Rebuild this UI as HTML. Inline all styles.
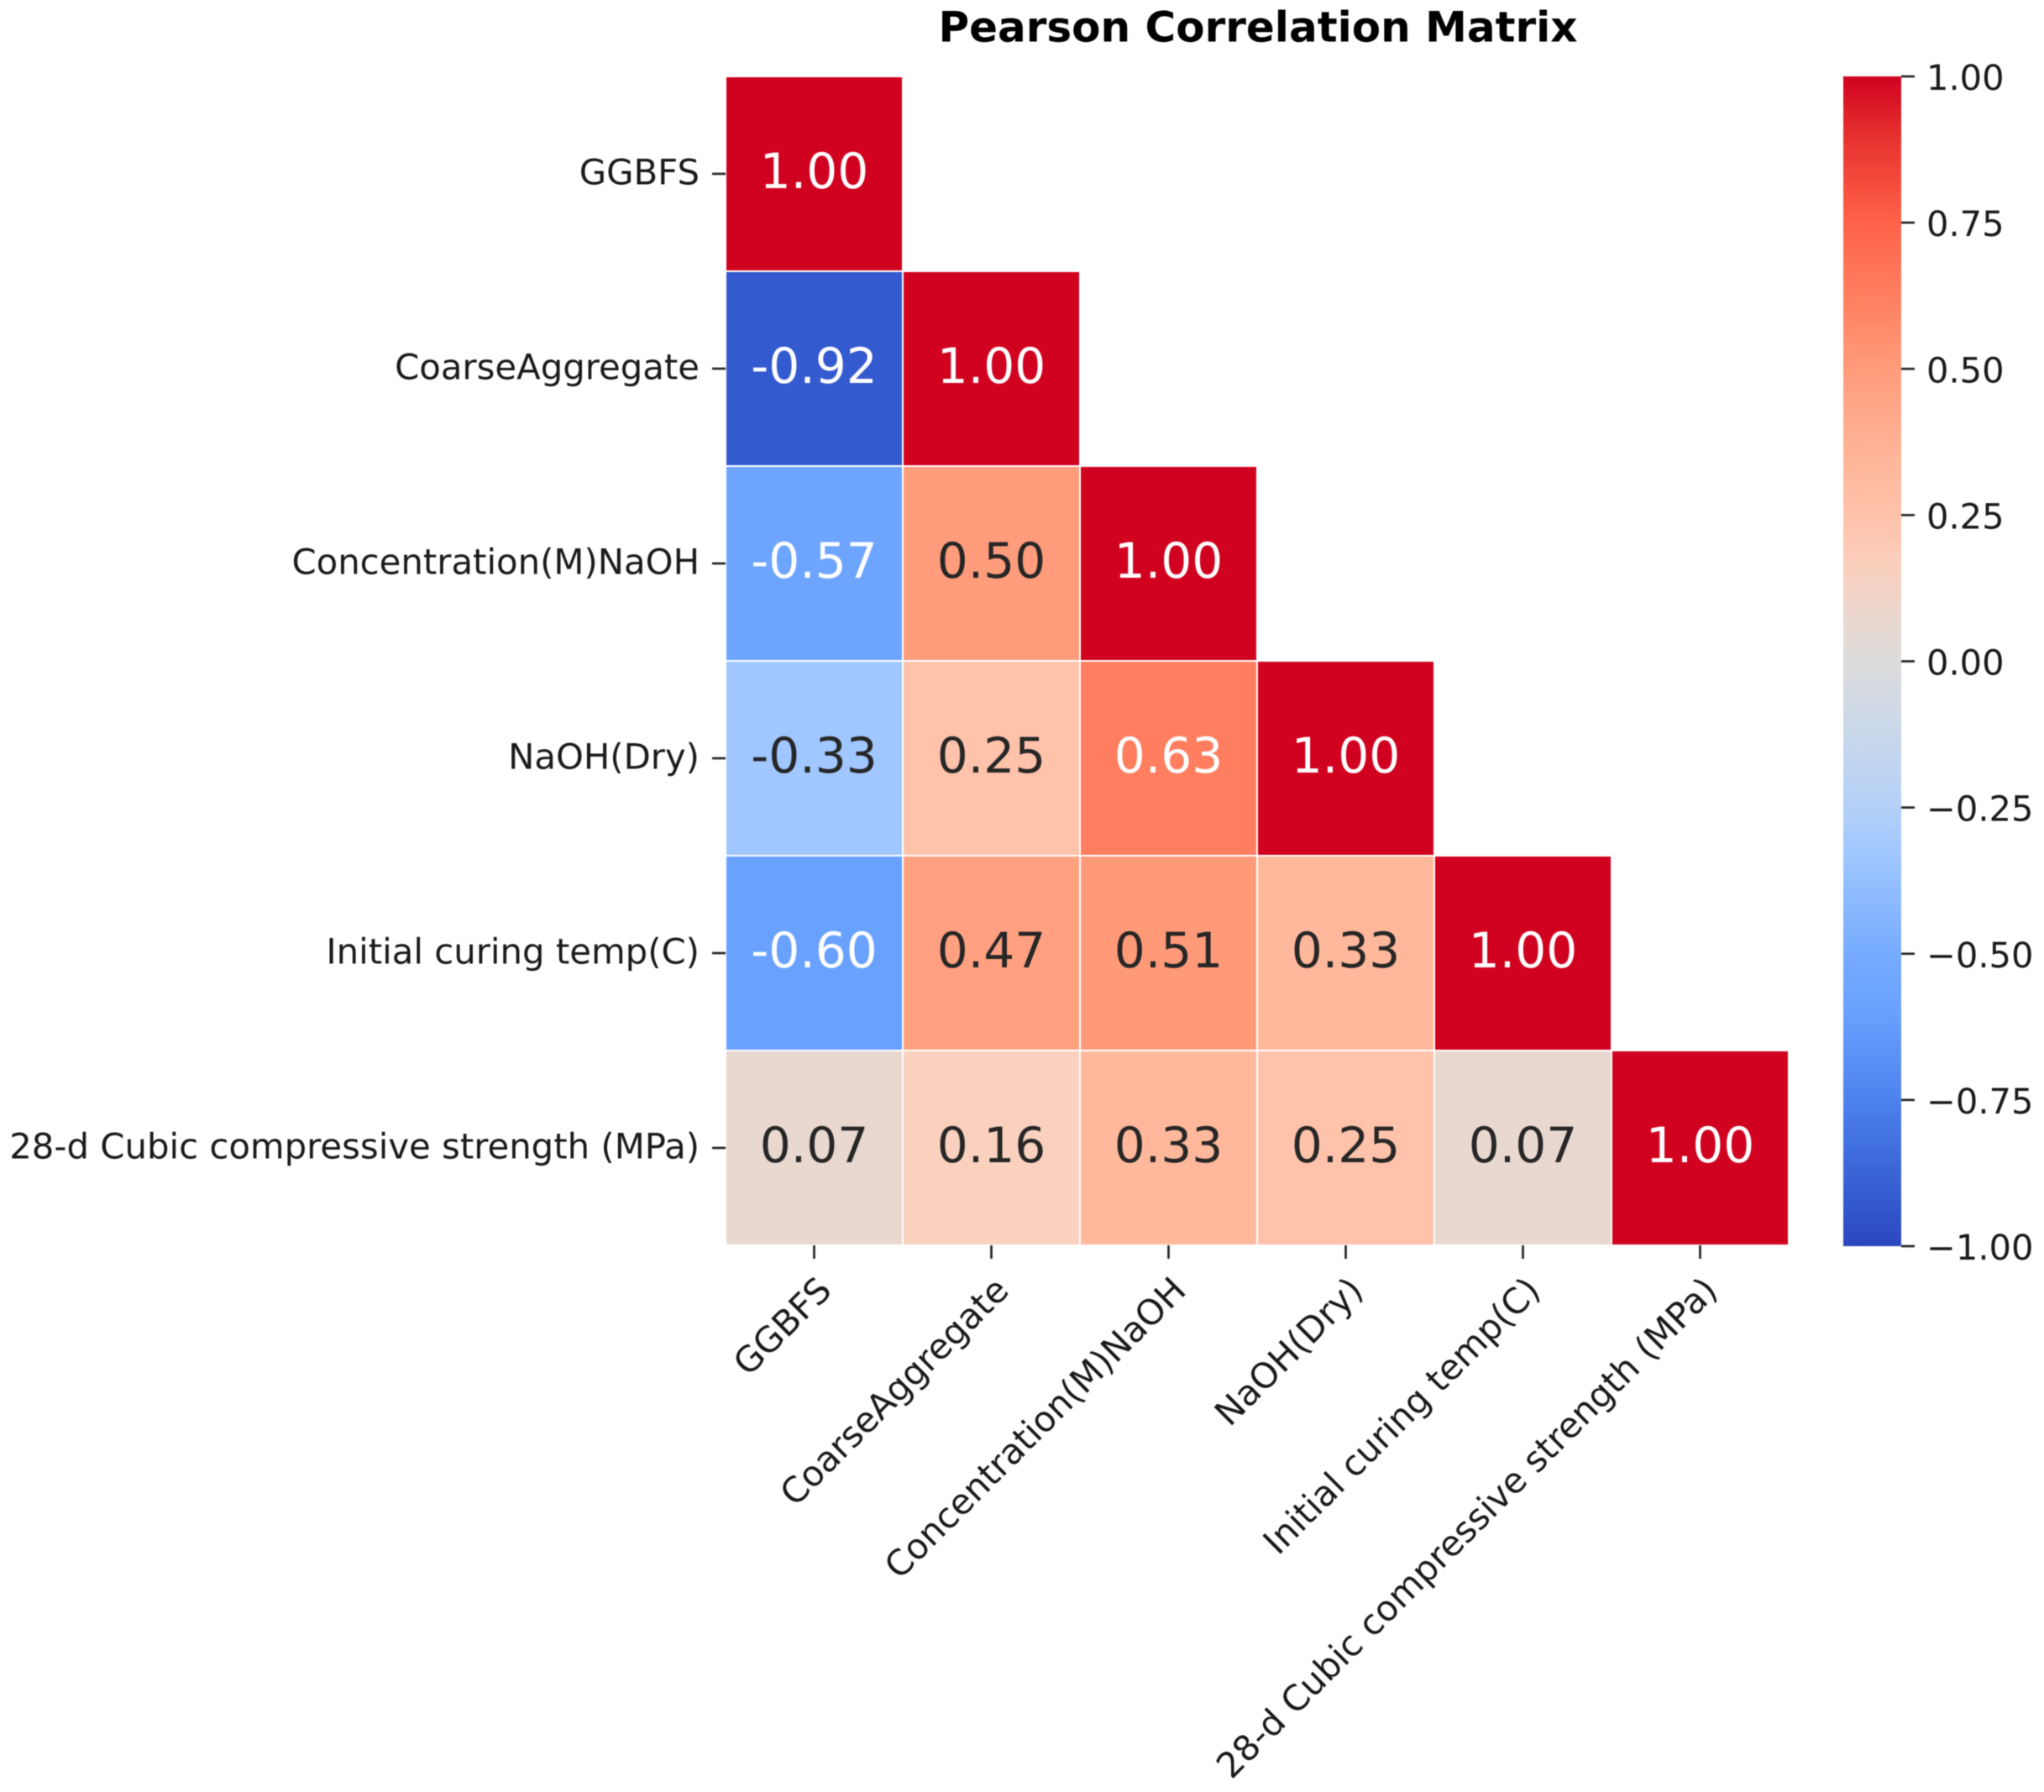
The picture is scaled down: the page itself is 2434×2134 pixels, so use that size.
<!DOCTYPE html>
<html>
<head>
<meta charset="utf-8">
<title>Pearson Correlation Matrix</title>
<style>
html,body{margin:0;padding:0;background:#fff;}
svg{display:block;filter:blur(0.6px);}
text{font-family:"DejaVu Sans","Liberation Sans",sans-serif;text-rendering:geometricPrecision;}
</style>
</head>
<body>
<svg id="chart" xmlns="http://www.w3.org/2000/svg" width="2434" height="2134" viewBox="0 0 2434 2134">
  <defs>
    <linearGradient id="cbar-gradient" x1="0" y1="1" x2="0" y2="0"></linearGradient>
  </defs>
  <rect x="0" y="0" width="2434" height="2134" fill="#ffffff"></rect>
</svg>
<script>
const categories = ["GGBFS","CoarseAggregate","Concentration(M)NaOH","NaOH(Dry)","Initial curing temp(C)","28-d Cubic compressive strength (MPa)"];
const rowGGBFS = [1.00];
const rowCoarseAggregate = [-0.92,1.00];
const rowConcentration = [-0.57,0.50,1.00];
const rowNaOHDry = [-0.33,0.25,0.63,1.00];
const rowCuringTemp = [-0.60,0.47,0.51,0.33,1.00];
const rowStrength = [0.07,0.16,0.33,0.25,0.07,1.00];
const correlationRows = [rowGGBFS,rowCoarseAggregate,rowConcentration,rowNaOHDry,rowCuringTemp,rowStrength];
const colorbarTicks = [-1,-0.75,-0.5,-0.25,0,0.25,0.5,0.75,1];
const chartTitle = "Pearson Correlation Matrix";

const NS = "http://www.w3.org/2000/svg";
const svg = document.getElementById("chart");
const plot = {left:864,right:2130,top:91,bottom:1483};
const cbar = {left:2195,right:2264,top:91,bottom:1484};
const cellW = (plot.right-plot.left)/categories.length;
const cellH = (plot.bottom-plot.top)/categories.length;
const xScale = i => plot.left + i*cellW;
const yScale = i => plot.top + i*cellH;
const cbarScale = v => cbar.bottom - (v+1)/2*(cbar.bottom-cbar.top);

const colorMapStops = [
  [-1,"#2b47c0"],[-0.92,"#345acf"],[-0.75,"#4d82ed"],[-0.6,"#69a1fe"],[-0.5,"#76abff"],
  [-0.33,"#a0c7ff"],[-0.25,"#b4d0f8"],[-0.1,"#cdd9e8"],[0,"#dddcdb"],[0.07,"#e9d8d0"],
  [0.16,"#fad0be"],[0.25,"#ffc2aa"],[0.33,"#ffb89c"],[0.5,"#ff9c7b"],[0.63,"#ff7e5f"],
  [0.75,"#ff6349"],[0.9,"#e6302e"],[1,"#d0021f"]
];
function hexToRgb(h){return [1,3,5].map(p=>parseInt(h.substr(p,2),16));}
function colorFor(v){
  const c = Math.max(-1,Math.min(1,v));
  for(let i=1;i<colorMapStops.length;i++){
    const a = colorMapStops[i-1], b = colorMapStops[i];
    if(c<=b[0]){
      const t=(c-a[0])/(b[0]-a[0]);
      const ra=hexToRgb(a[1]), rb=hexToRgb(b[1]);
      return "rgb("+ra.map((x,k)=>Math.round(x+(rb[k]-x)*t)).join(",")+")";
    }
  }
  return colorMapStops[colorMapStops.length-1][1];
}
function make(tag,attrs,text){
  const el=document.createElementNS(NS,tag);
  for(const k in attrs){el.setAttribute(k,attrs[k]);}
  if(text!==undefined){el.textContent=text;}
  svg.appendChild(el);
  return el;
}
function slug(s){return s.toLowerCase().replace(/[^a-z0-9]+/g,"-").replace(/(^-|-$)/g,"");}

// title
const titleEl = make("text",{x:1498,y:49.5,"text-anchor":"middle","font-size":50,"font-weight":"bold",fill:"#000"},chartTitle);



// cells
correlationRows.forEach((row,r)=>{
  row.forEach((v,c)=>{
    const rect = make("rect",{x:xScale(c),y:yScale(r),width:cellW,height:cellH,fill:colorFor(v),stroke:"#ffffff","stroke-width":2});
    
    
    const cx = xScale(c)+cellW/2, cy = yScale(r)+cellH/2;
    const light = Math.abs(v)>=0.55;
    const t = make("text",{x:cx,y:cy+17,"text-anchor":"middle","font-size":58.2,fill:light?"#ffffff":"#262626"},v.toFixed(2));
    
    
  });
});

// y axis
categories.forEach((name,i)=>{
  const cy = yScale(i)+cellH/2;
  const tick = make("line",{x1:plot.left-16,x2:plot.left,y1:cy,y2:cy,stroke:"#262626","stroke-width":2.7});
  
  
  const lab = make("text",{x:833,y:cy+12.5,"text-anchor":"end","font-size":41.8,fill:"#1a1a1a"},name);
  
  
});

// x axis
categories.forEach((name,i)=>{
  const cx = xScale(i)+cellW/2;
  const tick = make("line",{x1:cx,x2:cx,y1:plot.bottom,y2:plot.bottom+16,stroke:"#262626","stroke-width":2.7});
  
  
  const lab = make("text",{"text-anchor":"end","font-size":41.8,fill:"#1a1a1a",
    transform:"translate("+(cx+1)+",1517) rotate(-45) translate(0,31)"},name);
  
  
});

// colorbar
const grad = document.getElementById("cbar-gradient");
colorMapStops.forEach(s=>{
  const st=document.createElementNS(NS,"stop");
  st.setAttribute("offset",(s[0]+1)/2);
  st.setAttribute("stop-color",s[1]);
  grad.appendChild(st);
});
const cbarRect = make("rect",{x:cbar.left,y:cbar.top,width:cbar.right-cbar.left,height:cbar.bottom-cbar.top,fill:"url(#cbar-gradient)"});


colorbarTicks.forEach(v=>{
  const y = cbarScale(v);
  const tick = make("line",{x1:cbar.right,x2:cbar.right+16,y1:y,y2:y,stroke:"#262626","stroke-width":2.7});
  
  
  const txt = (v<0?"\u2212":"")+Math.abs(v).toFixed(2);
  const lab = make("text",{x:2294,y:y+16,"font-size":41.6,fill:"#1a1a1a"},txt);
  
  
});
</script>
</body>
</html>
